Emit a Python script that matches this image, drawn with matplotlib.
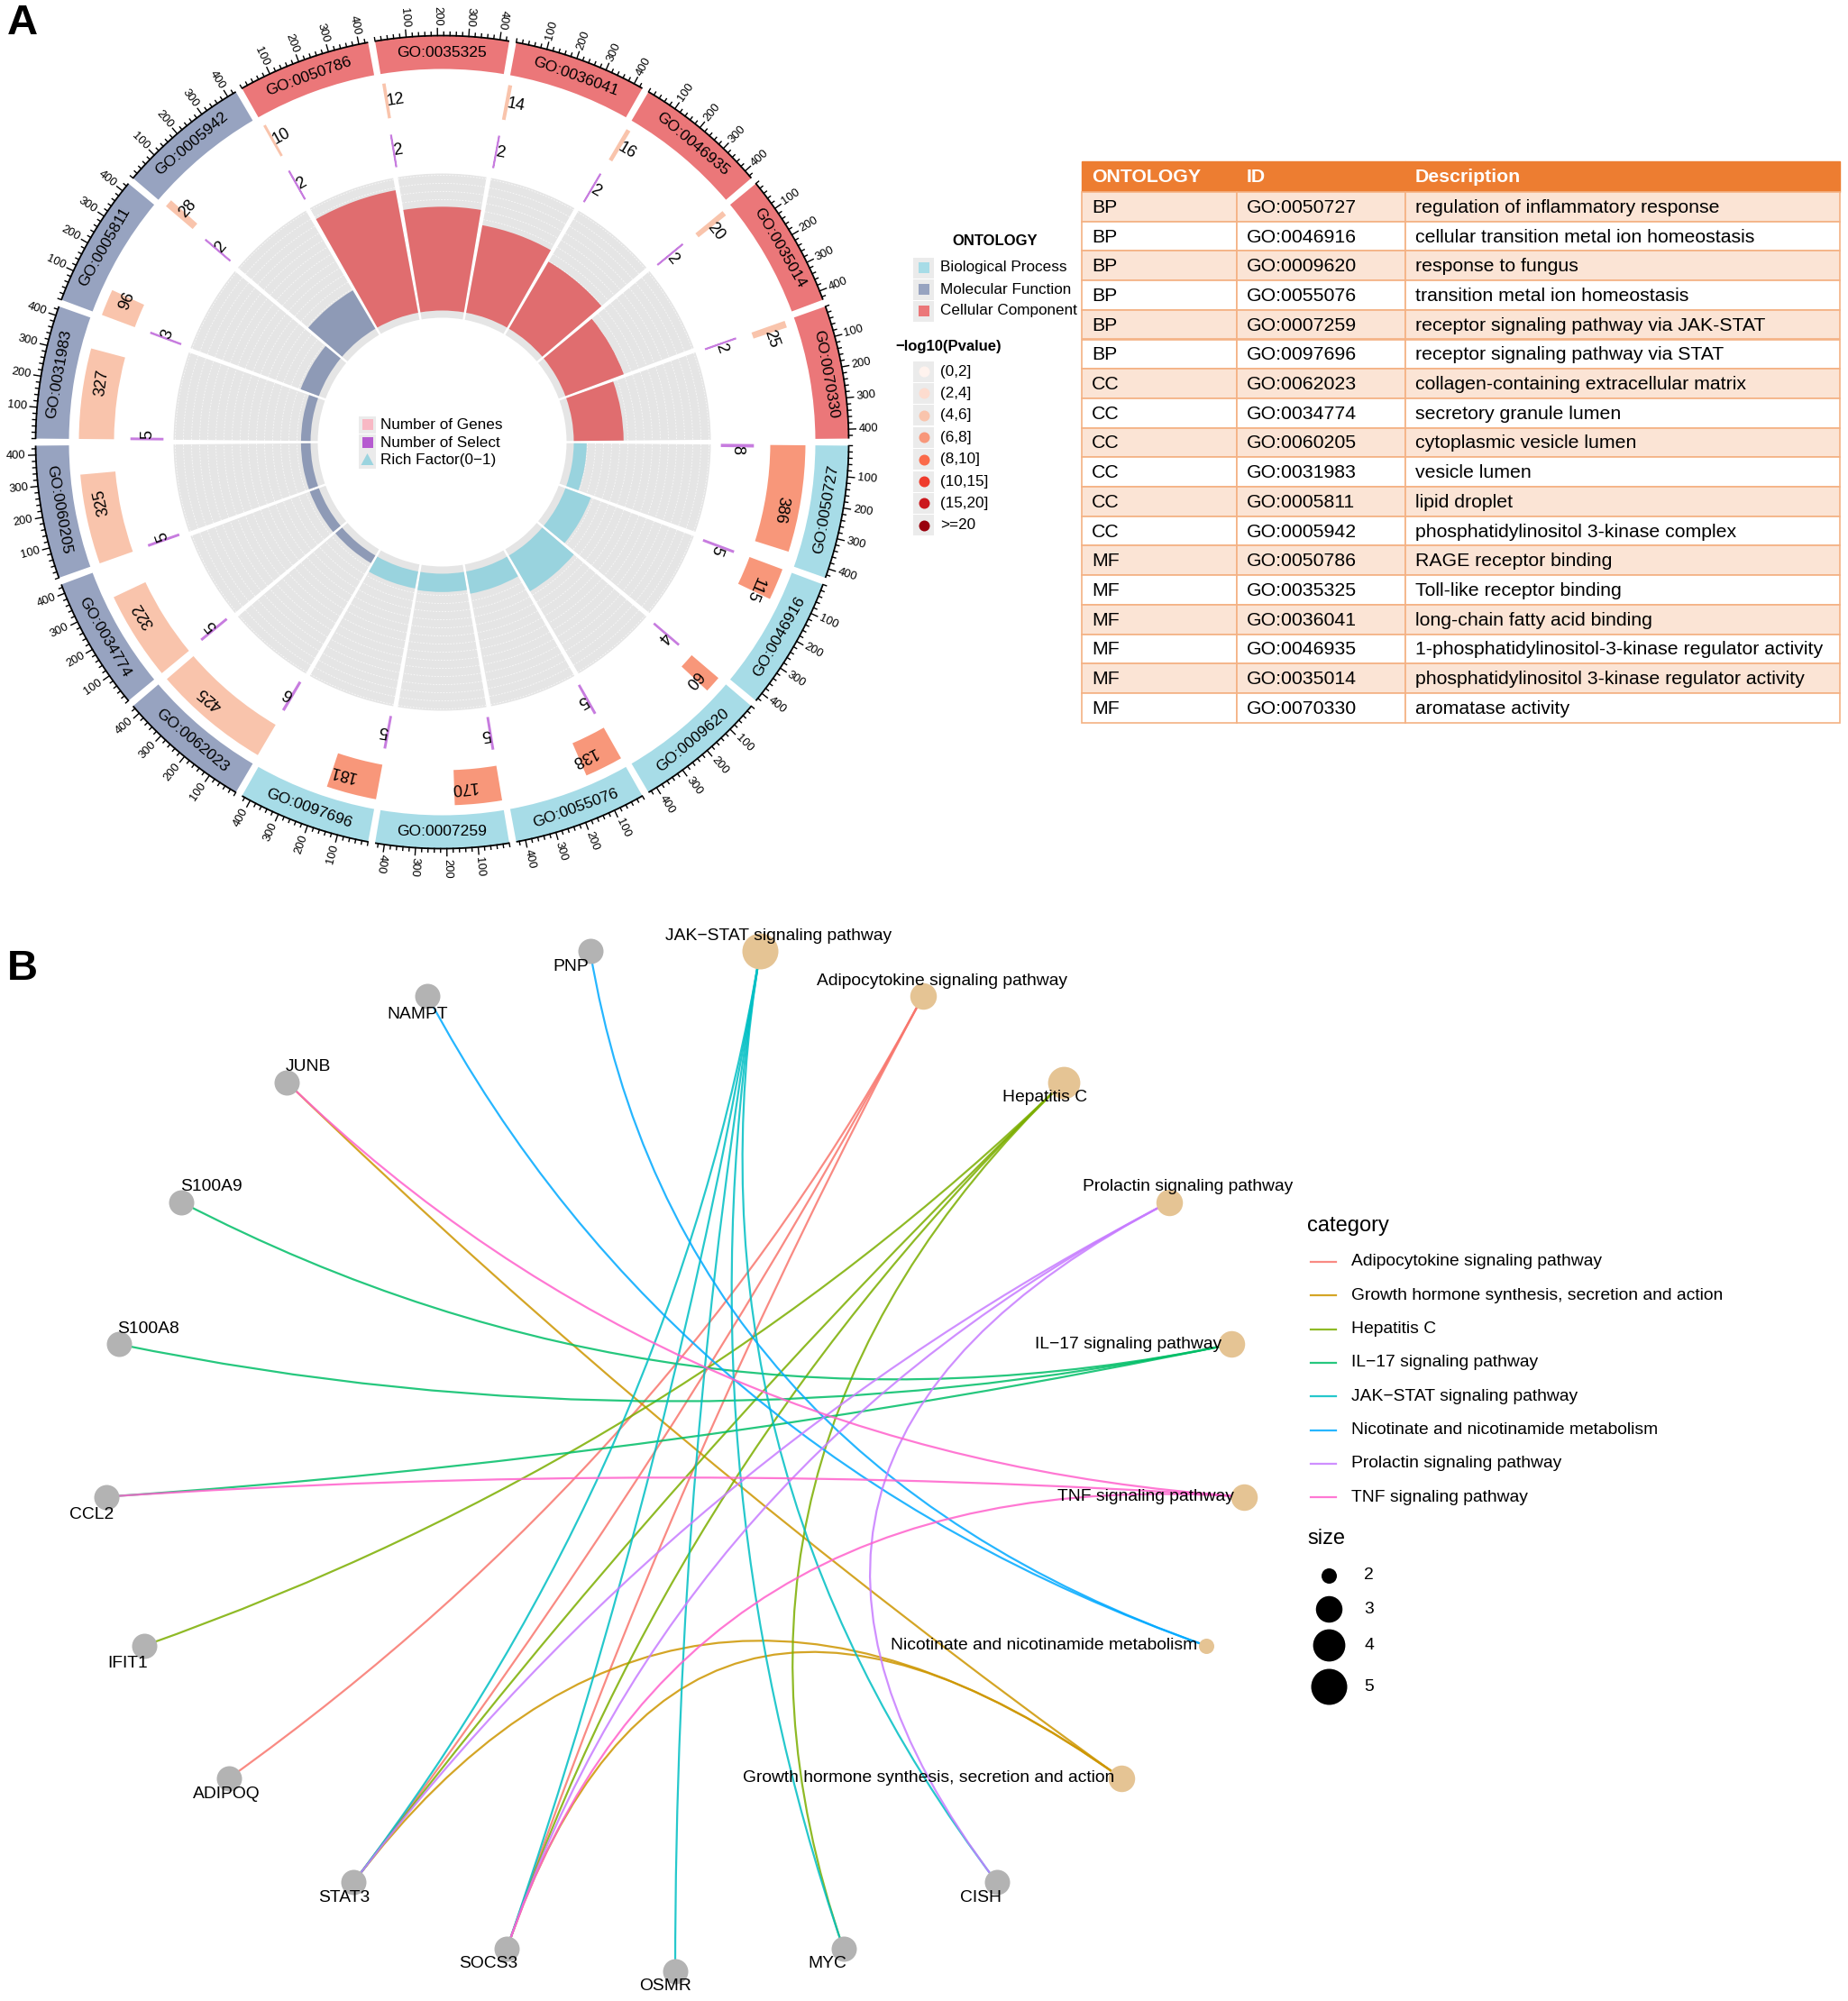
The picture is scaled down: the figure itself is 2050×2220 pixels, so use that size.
import numpy as np
import matplotlib.pyplot as plt
from matplotlib.patches import Rectangle, PathPatch, Polygon
from matplotlib.path import Path
from matplotlib.lines import Line2D

plt.rcParams['font.family'] = ['Liberation Sans', 'DejaVu Sans']

W, H = 2050, 2220
PT = 0.72  # px -> pt at dpi 100

# ---------------- panel A data ----------------
ontology = ['BP'] * 6 + ['CC'] * 6 + ['MF'] * 6
go_ids = ['GO:0050727', 'GO:0046916', 'GO:0009620', 'GO:0055076', 'GO:0007259', 'GO:0097696',
          'GO:0062023', 'GO:0034774', 'GO:0060205', 'GO:0031983', 'GO:0005811', 'GO:0005942',
          'GO:0050786', 'GO:0035325', 'GO:0036041', 'GO:0046935', 'GO:0035014', 'GO:0070330']
descriptions = ['regulation of inflammatory response',
                'cellular transition metal ion homeostasis',
                'response to fungus',
                'transition metal ion homeostasis',
                'receptor signaling pathway via JAK-STAT',
                'receptor signaling pathway via STAT',
                'collagen-containing extracellular matrix',
                'secretory granule lumen',
                'cytoplasmic vesicle lumen',
                'vesicle lumen',
                'lipid droplet',
                'phosphatidylinositol 3-kinase complex',
                'RAGE receptor binding',
                'Toll-like receptor binding',
                'long-chain fatty acid binding',
                '1-phosphatidylinositol-3-kinase regulator activity',
                'phosphatidylinositol 3-kinase regulator activity',
                'aromatase activity']
n_genes = [386, 115, 60, 138, 170, 181, 425, 322, 325, 327, 96, 28, 10, 12, 14, 16, 20, 25]
n_select = [8, 5, 4, 5, 5, 5, 6, 5, 5, 5, 3, 2, 2, 2, 2, 2, 2, 2]
p_bin = ['(6,8]'] * 6 + ['(4,6]'] * 12

p_bins = ['(0,2]', '(2,4]', '(4,6]', '(6,8]', '(8,10]', '(10,15]', '(15,20]', '>=20']
p_colors = ['#FFF3EE', '#FDDCCF', '#F9C4AC', '#F8977A', '#FB6A4A', '#EF3B2C', '#CB181D', '#99000D']
onto_names = ['Biological Process', 'Molecular Function', 'Cellular Component']

band_col = {'BP': '#A7DCE7', 'CC': '#97A3C0', 'MF': '#EB7779'}
bar_col = {'BP': '#99D3DE', 'CC': '#8E9AB6', 'MF': '#E06D6F'}
pcol = dict(zip(p_bins, p_colors))

# ---------------- panel B data ----------------
categories = ['Adipocytokine signaling pathway',
              'Growth hormone synthesis, secretion and action',
              'Hepatitis C',
              'IL\u221217 signaling pathway',
              'JAK\u2212STAT signaling pathway',
              'Nicotinate and nicotinamide metabolism',
              'Prolactin signaling pathway',
              'TNF signaling pathway']
cat_colors = ['#F8766D', '#CD9600', '#7CAE00', '#00BE67', '#00BFC4', '#00A9FF', '#C77CFF', '#FF61CC']
cat_genes = [['ADIPOQ', 'STAT3', 'SOCS3'],
             ['JUNB', 'STAT3', 'SOCS3'],
             ['IFIT1', 'STAT3', 'SOCS3', 'MYC'],
             ['S100A9', 'S100A8', 'CCL2'],
             ['STAT3', 'SOCS3', 'OSMR', 'MYC', 'CISH'],
             ['PNP', 'NAMPT'],
             ['STAT3', 'SOCS3', 'CISH'],
             ['JUNB', 'CCL2', 'SOCS3']]
# clockwise circle order, starting just right of top
node_order = ['JAK\u2212STAT signaling pathway', 'Adipocytokine signaling pathway', 'Hepatitis C',
              'Prolactin signaling pathway', 'IL\u221217 signaling pathway', 'TNF signaling pathway',
              'Nicotinate and nicotinamide metabolism',
              'Growth hormone synthesis, secretion and action',
              'CISH', 'MYC', 'OSMR', 'SOCS3', 'STAT3', 'ADIPOQ', 'IFIT1', 'CCL2',
              'S100A8', 'S100A9', 'JUNB', 'NAMPT', 'PNP']
size_breaks = [2, 3, 4, 5]

# label offsets (px, screen y down) and alignment
label_pos = {
    'PNP': (-21, 17, 'center'), 'NAMPT': (-11, 20, 'center'), 'JUNB': (23, -17, 'center'),
    'S100A9': (34, -17, 'center'), 'S100A8': (33, -17, 'center'), 'CCL2': (-16, 20, 'center'),
    'IFIT1': (-18, 20, 'center'), 'ADIPOQ': (-3, 18, 'center'), 'STAT3': (-11, 17, 'center'),
    'SOCS3': (-21, 17, 'center'), 'OSMR': (-11, 17, 'center'), 'MYC': (-18, 17, 'center'),
    'CISH': (-18, 17, 'center'),
    'JAK\u2212STAT signaling pathway': (20, -17, 'center'),
    'Adipocytokine signaling pathway': (21, -17, 'center'),
    'Hepatitis C': (-20, 17, 'center'),
    'Prolactin signaling pathway': (20, -17, 'center'),
    'IL\u221217 signaling pathway': (-11, 0, 'right'),
    'TNF signaling pathway': (-11, 0, 'right'),
    'Nicotinate and nicotinamide metabolism': (-10, 0, 'right'),
    'Growth hormone synthesis, secretion and action': (-8, 0, 'right'),
}

fig = plt.figure(figsize=(W / 100, H / 100), dpi=100)

# ================= panel A: circular plot =================
cx, cy, RA = 490.5, 490.5, 500
axp = fig.add_axes([(cx - RA) / W, 1 - (cy + RA) / H, 2 * RA / W, 2 * RA / H], projection='polar')
axp.set_theta_zero_location('E')
axp.set_theta_direction(-1)
axp.set_ylim(0, RA)
axp.set_axis_off()

SEC, GAP = 20.0, 1.0
SPAN = SEC - GAP
XMAX = 430


def th(i, v=0.0):
    return np.deg2rad(i * SEC + GAP / 2 + v / XMAX * SPAN)


def math_deg(t):
    return (-np.rad2deg(t)) % 360


rich = np.array(n_select) / np.array(n_genes)
rich_top = rich.max() * 1.1
wid = np.deg2rad(SPAN)

for i, go in enumerate(go_ids):
    ont = ontology[i]
    t0 = th(i)
    tt = np.linspace(th(i, 0), th(i, XMAX), 80)

    # outer ontology band with GO id
    axp.bar(t0, 37, width=wid, bottom=414, align='edge', color=band_col[ont], lw=0)
    tc = th(i, XMAX / 2)
    a = math_deg(tc)
    rot = a - 90 if a < 180 else a + 90
    axp.text(tc, 432, go, rotation=rot, rotation_mode='anchor', ha='center', va='center',
             fontsize=12.6)

    # axis with ticks
    axp.plot(tt, np.full_like(tt, 451), color='black', lw=1.3, solid_capstyle='butt')
    for v in range(0, 421, 20):
        major = v % 100 == 0 and v > 0
        tv = th(i, v)
        axp.plot([tv, tv], [451, 451 + (8 if major else 4)], color='black', lw=1.0)
        if major:
            a = math_deg(tv)
            if 80 <= a < 260:
                rot, ha = a - 180, 'right'
            else:
                rot, ha = a, 'left'
            axp.text(tv, 462, str(v), rotation=rot, rotation_mode='anchor', ha=ha,
                     va='center', fontsize=9.3)

    # number of genes
    axp.bar(t0, 39, width=np.deg2rad(n_genes[i] / XMAX * SPAN), bottom=364, align='edge',
            color=pcol[p_bin[i]], lw=0)
    tg = th(i, n_genes[i] / 2)
    axp.text(tg, 383, str(n_genes[i]), rotation=math_deg(tg) - 90, rotation_mode='anchor',
             ha='left', va='center', fontsize=13)

    # number of select
    axp.bar(t0, 35, width=np.deg2rad(n_select[i] / XMAX * SPAN), bottom=310, align='edge',
            color='#C77CDF', edgecolor='#C77CDF', lw=1.2)
    ts = th(i, n_select[i] / 2)
    axp.text(ts, 327, str(n_select[i]), rotation=math_deg(ts) - 90, rotation_mode='anchor',
             ha='left', va='center', fontsize=13)

    # rich factor
    axp.bar(t0, 160, width=wid, bottom=138, align='edge', color='#E5E5E5', lw=0, zorder=1)
    for rr in np.arange(152, 298, 9):
        axp.plot(tt, np.full_like(tt, rr), color='white', lw=0.6, alpha=0.8,
                 ls=(0, (2, 2)), zorder=1.5)
    axp.bar(t0, rich[i] / rich_top * 152, width=wid, bottom=146, align='edge',
            color=bar_col[ont], lw=0, zorder=2)

# ================= panel B: network =================
cxb, cyb, rxb, ryb = 749, 1618, 633, 569
L, R, T, B = 0, 1440, 1000, 2220
axn = fig.add_axes([L / W, 1 - B / H, (R - L) / W, (B - T) / H])
axn.set_xlim((L - cxb) / rxb, (R - cxb) / rxb)
axn.set_ylim((cyb - B) / ryb, (cyb - T) / ryb)
axn.axis('off')

nn = len(node_order)
ang = np.deg2rad(90 - 180 / nn - np.arange(nn) * 360 / nn)
pos = {name: (np.cos(a), np.sin(a)) for name, a in zip(node_order, ang)}


def node_diam(v):
    # px diameter, area growing with log(size)
    f = (np.log(v) - np.log(2)) / (np.log(5) - np.log(2))
    return np.sqrt(17 ** 2 + f * (40 ** 2 - 17 ** 2))


for cat, col, genes in zip(categories, cat_colors, cat_genes):
    for g in genes:
        verts = [pos[g], (0, 0), pos[cat]]
        path = Path(verts, [Path.MOVETO, Path.CURVE3, Path.CURVE3])
        axn.add_patch(PathPatch(path, facecolor='none', edgecolor=col, lw=1.6, alpha=0.85,
                                zorder=1))

cat_size = {c: len(g) for c, g in zip(categories, cat_genes)}
for name in node_order:
    x, y = pos[name]
    if name in cat_size:
        d = node_diam(cat_size[name])
        axn.scatter([x], [y], s=(d * PT) ** 2, color='#E5C494', lw=0, zorder=3)
    else:
        axn.scatter([x], [y], s=(28 * PT) ** 2, color='#B3B3B3', lw=0, zorder=3)
    dx, dy, ha = label_pos[name]
    axn.annotate(name, (x, y), xytext=(dx * PT, -dy * PT), textcoords='offset points',
                 ha=ha, va='center', fontsize=13.9, zorder=4)

# ================= overlay: legends, table, panel letters =================
ov = fig.add_axes([0, 0, 1, 1])
ov.set_xlim(0, W)
ov.set_ylim(H, 0)
ov.axis('off')

ov.text(8, 4, 'A', fontsize=34, fontweight='bold', va='top', ha='left')
ov.text(8, 1053, 'B', fontsize=34, fontweight='bold', va='top', ha='left')

# legend in the middle of the circle
mid_labels = ['Number of Genes', 'Number of Select', 'Rich Factor(0\u22121)']
for k, (lab, y) in enumerate(zip(mid_labels, [471, 491, 510])):
    ov.add_patch(Rectangle((398, y - 9.5), 19, 19, color='#EBEBEB', lw=0))
    if k == 0:
        ov.add_patch(Rectangle((401.5, y - 6), 12, 12, color='#F8B8C4', lw=0))
    elif k == 1:
        ov.add_patch(Rectangle((401.5, y - 6), 12, 12, color='#B65BD0', lw=0))
    else:
        ov.add_patch(Polygon([(400.5, y + 6), (414.5, y + 6), (407.5, y - 7)], color='#9BD4DF',
                             lw=0))
    ov.text(422, y, lab, fontsize=12.3, va='center', ha='left')

# ontology legend
ov.text(1104, 268, 'ONTOLOGY', fontsize=12, fontweight='bold', ha='center', va='center')
onto_keys = [band_col['BP'], band_col['CC'], band_col['MF']]
for lab, col, y in zip(onto_names, onto_keys, [297, 321, 345]):
    ov.add_patch(Rectangle((1013, y - 11.5), 23, 23, color='#EBEBEB', lw=0))
    ov.add_patch(Rectangle((1018.5, y - 6), 12, 12, color=col, lw=0))
    ov.text(1043, y, lab, fontsize=12.3, va='center', ha='left')

ov.text(993, 384, '\u2212log10(Pvalue)', fontsize=12, fontweight='bold', ha='left', va='center')
for k, (lab, col) in enumerate(zip(p_bins, p_colors)):
    y = 412 + k * 24.4
    ov.add_patch(Rectangle((1013, y - 11.5), 23, 23, color='#EBEBEB', lw=0))
    ov.scatter([1024.5], [y], s=(12 * PT) ** 2, color=col, lw=0)
    ov.text(1043, y, lab, fontsize=12.3, va='center', ha='left')

# table
col_x = [1200, 1372, 1559, 2041]
txt_x = [1211, 1383, 1570]
head_top, head_h, row_h = 179, 34, 32.7
headers = ['ONTOLOGY', 'ID', 'Description']
for c in range(3):
    ov.add_patch(Rectangle((col_x[c], head_top), col_x[c + 1] - col_x[c], head_h,
                           facecolor='#ED7D31', edgecolor='#ED7D31', lw=1))
    ov.text(txt_x[c], head_top + head_h / 2 + 1, headers[c], color='white', fontweight='bold',
            fontsize=15.3, va='center', ha='left')
for r in range(len(go_ids)):
    y0 = head_top + head_h + r * row_h
    fc = '#FBE4D5' if r % 2 == 0 else 'white'
    vals = [ontology[r], go_ids[r], descriptions[r]]
    for c in range(3):
        ov.add_patch(Rectangle((col_x[c], y0), col_x[c + 1] - col_x[c], row_h,
                               facecolor=fc, edgecolor='#F4B183', lw=1.2))
        ov.text(txt_x[c], y0 + row_h / 2 + 1, vals[c], fontsize=15.3, va='center', ha='left')

# network legend
ov.text(1450, 1360, 'category', fontsize=17, va='center', ha='left')
for k, (cat, col) in enumerate(zip(categories, cat_colors)):
    y = 1400 + k * 37.3
    ov.add_line(Line2D([1454, 1482], [y, y], color=col, lw=1.6, alpha=0.85))
    ov.text(1499, y, cat, fontsize=13.9, va='center', ha='left')

ov.text(1450, 1707, 'size', fontsize=17, va='center', ha='left')
for v, y in zip(size_breaks, [1748, 1785, 1825, 1871]):
    ov.scatter([1474], [y], s=(node_diam(v) * PT) ** 2, color='black', lw=0)
    ov.text(1513, y, str(v), fontsize=13.9, va='center', ha='left')

fig.savefig('out.png', dpi=100)
